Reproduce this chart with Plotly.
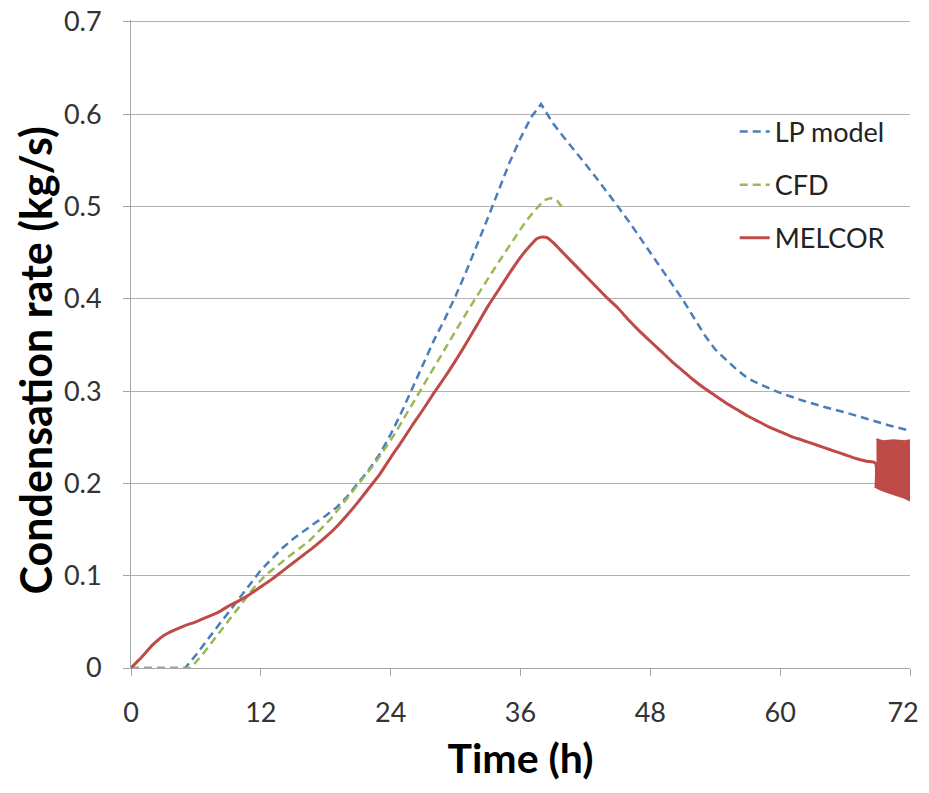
import plotly.graph_objects as go

# ---- data ----
lp_t = [0, 5, 6, 7, 8, 9, 10, 11, 12, 13, 14, 15, 16, 17, 18, 19, 20, 21, 22, 23, 24, 25, 26, 27, 28,
        29, 30, 31, 32, 33, 34, 35, 36, 37, 37.9, 39, 40, 41, 42, 43, 44, 45, 46, 47, 48, 49, 50, 51,
        52, 53, 54, 55, 56, 57, 58, 60, 62, 64, 66, 68, 70, 72]
lp_y = [0, 0, 0.014, 0.03, 0.045, 0.06, 0.075, 0.091, 0.106, 0.118, 0.13, 0.14, 0.149, 0.157, 0.165,
        0.174, 0.186, 0.2, 0.215, 0.232, 0.253, 0.277, 0.303, 0.33, 0.355, 0.378, 0.403, 0.43, 0.458,
        0.488, 0.518, 0.548, 0.574, 0.597, 0.611, 0.59, 0.575, 0.561, 0.546, 0.531, 0.516, 0.5, 0.484,
        0.467, 0.451, 0.434, 0.417, 0.399, 0.38, 0.361, 0.345, 0.334, 0.323, 0.314, 0.308, 0.298, 0.29,
        0.283, 0.277, 0.27, 0.263, 0.257]

cfd_t = [0, 5.5, 6.5, 7.5, 8.5, 9.5, 10.5, 11.5, 12.5, 13.5, 14.5, 15.5, 16.5, 17.5, 18.5, 19.5, 20.5,
         21.5, 22.5, 23.5, 24.5, 25.5, 26.5, 27.5, 28.5, 29.5, 30.5, 31.5, 32.5, 33.5, 34.5, 35.5, 36.5,
         37.5, 38.2, 38.8, 39.4, 39.8]
cfd_y = [0, 0, 0.013, 0.028, 0.043, 0.058, 0.073, 0.089, 0.101, 0.111, 0.12, 0.129, 0.138, 0.15, 0.162,
         0.177, 0.192, 0.207, 0.221, 0.238, 0.256, 0.276, 0.296, 0.316, 0.336, 0.356, 0.375, 0.394,
         0.413, 0.431, 0.449, 0.467, 0.484, 0.498, 0.507, 0.509, 0.506, 0.5]

mel_t = [0, 0.5, 1, 2, 3, 4, 5, 6, 7, 8, 9, 10, 11, 12, 13, 14, 15, 16, 17, 18, 19, 20, 21, 22, 23, 24,
         25, 26, 27, 28, 29, 30, 31, 32, 33, 34, 35, 36, 37, 37.5, 38, 38.5, 39, 40, 41, 42, 43, 44, 45,
         46, 47, 48, 49, 50, 51, 52, 53, 54, 55, 56, 57, 58, 59, 60, 61, 62, 63, 64, 65, 66, 67, 68,
         68.8, 68.85]
mel_y = [0, 0.006, 0.012, 0.025, 0.035, 0.041, 0.046, 0.05, 0.055, 0.06, 0.067, 0.073, 0.08, 0.088,
         0.096, 0.105, 0.114, 0.123, 0.132, 0.142, 0.153, 0.166, 0.18, 0.195, 0.21, 0.228, 0.245, 0.263,
         0.28, 0.298, 0.315, 0.333, 0.352, 0.372, 0.392, 0.41, 0.428, 0.445, 0.459, 0.465, 0.467, 0.466,
         0.461, 0.449, 0.437, 0.425, 0.413, 0.401, 0.39, 0.377, 0.365, 0.354, 0.343, 0.332, 0.322, 0.312,
         0.303, 0.295, 0.287, 0.28, 0.273, 0.267, 0.261, 0.256, 0.251, 0.247, 0.243, 0.239, 0.235, 0.231,
         0.227, 0.224, 0.222, 0.195]

# MELCOR oscillating band at the end of the run (upper / lower envelope)
osc_t = [68.9, 69.5, 70.5, 71.5, 72]
osc_hi = [0.248, 0.246, 0.247, 0.246, 0.247]
osc_lo = [0.195, 0.192, 0.188, 0.184, 0.181]

x_ticks = [0, 12, 24, 36, 48, 60, 72]
x_tick_text = ["0", "12", "24", "36", "48", "60", "72\u00a0\u00a0"]
y_ticks = [0, 0.1, 0.2, 0.3, 0.4, 0.5, 0.6, 0.7]
y_tick_text = ["0", "0.1", "0.2", "0.3", "0.4", "0.5", "0.6", "0.7"]

BLUE = "#4A7EBB"
GREEN = "#98B954"
RED = "#BE4B48"
FONT = "Lato"

fig = go.Figure()
fig.add_trace(go.Scatter(x=lp_t, y=lp_y, mode="lines", name="LP model", legendgroup="a",
                         line=dict(color=BLUE, width=2.5, dash="8px,5px")))
fig.add_trace(go.Scatter(x=cfd_t, y=cfd_y, mode="lines", name="CFD", legendgroup="b",
                         line=dict(color=GREEN, width=2.5, dash="8px,5px")))
fig.add_trace(go.Scatter(x=mel_t, y=mel_y, mode="lines", name="MELCOR", legendgroup="c",
                         line=dict(color=RED, width=3, shape="spline", smoothing=0.6)))
fig.add_trace(go.Scatter(x=osc_t, y=osc_lo, mode="lines", showlegend=False, legendgroup="c",
                         line=dict(color=RED, width=1.5)))
fig.add_trace(go.Scatter(x=osc_t, y=osc_hi, mode="lines", showlegend=False, legendgroup="c",
                         fill="tonexty", fillcolor=RED, line=dict(color=RED, width=1.5)))

fig.update_layout(
    width=913, height=777,
    margin=dict(l=123, r=11, t=12, b=117),
    paper_bgcolor="white", plot_bgcolor="white",
    font=dict(family=FONT, size=27, color="#333333"),
    showlegend=True,
    legend=dict(x=0.775, y=0.865, xanchor="left", yanchor="top", bgcolor="rgba(0,0,0,0)",
                font=dict(size=27, color="#222222", family=FONT), tracegroupgap=15),
    xaxis=dict(range=[0, 72], tickvals=x_ticks, ticktext=x_tick_text, ticks="outside", ticklen=7,
               tickcolor="#A6A6A6", ticklabelstandoff=14, automargin=False, ticklabeloverflow="allow",
               showline=True, linecolor="#A6A6A6", linewidth=1, showgrid=False, zeroline=False,
               title=dict(text="<b>Time (h)</b>", font=dict(size=41, color="black", family=FONT), standoff=16)),
    yaxis=dict(range=[0, 0.702], tickvals=y_ticks, ticktext=y_tick_text, ticks="outside", ticklen=7,
               ticklabelstandoff=16, automargin=False, ticklabeloverflow="allow",
               tickcolor="#A6A6A6", showline=True, linecolor="#A6A6A6", linewidth=1,
               showgrid=True, gridcolor="#B0B0B0", gridwidth=1, zeroline=False),
    annotations=[dict(text="<b>Condensation rate (kg/s)</b>", textangle=-90, showarrow=False,
                      xref="paper", yref="paper", x=-0.123, y=0.475, xanchor="center", yanchor="middle",
                      font=dict(size=43, color="black", family=FONT))],
)

fig.write_html("out.html")
